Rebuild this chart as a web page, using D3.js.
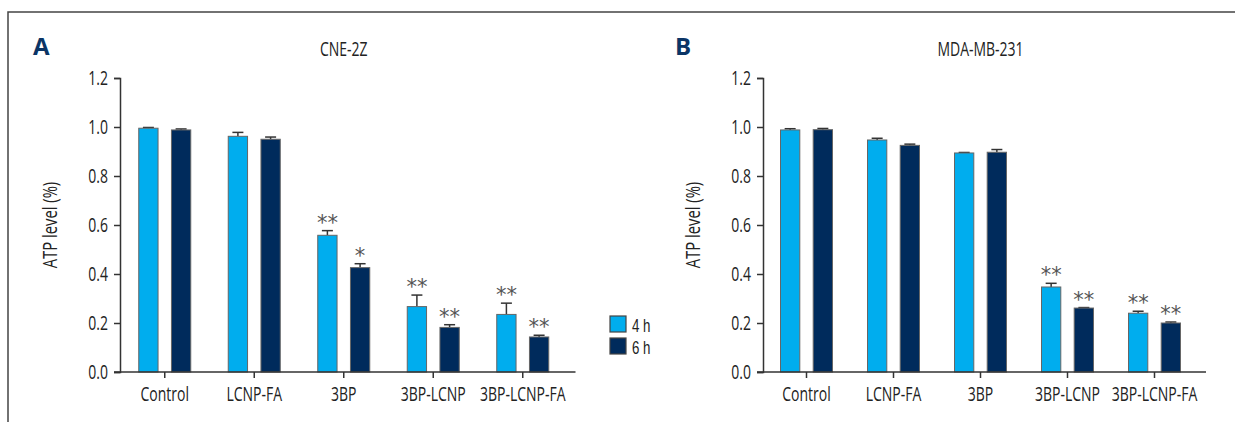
<!DOCTYPE html>
<html>
<head>
<meta charset="utf-8">
<script src="https://cdn.jsdelivr.net/npm/d3@7"></script>
<style>
  body { margin: 0; background: #fff; }
  text { font-family: "Open Sans", "Noto Sans", sans-serif; fill: #222; }
</style>
</head>
<body>
<svg width="1235" height="422"></svg>
<script>
var categories = ["Control", "LCNP-FA", "3BP", "3BP-LCNP", "3BP-LCNP-FA"];
var series = ["4 h", "6 h"];
var yTicks = [0, 0.2, 0.4, 0.6, 0.8, 1.0, 1.2];

// CNE-2Z
var cne4h    = [0.995, 0.962, 0.558, 0.267, 0.235];
var cne4hErr = [0.003, 0.016, 0.019, 0.047, 0.046];
var cne6h    = [0.988, 0.950, 0.426, 0.182, 0.143];
var cne6hErr = [0.004, 0.009, 0.016, 0.011, 0.007];
var cneSig4h = ["", "", "**", "**", "**"];
var cneSig6h = ["", "", "*", "**", "**"];

// MDA-MB-231
var mda4h    = [0.988, 0.947, 0.894, 0.347, 0.240];
var mda4hErr = [0.005, 0.007, 0.002, 0.015, 0.008];
var mda6h    = [0.989, 0.925, 0.897, 0.261, 0.200];
var mda6hErr = [0.005, 0.005, 0.011, 0.002, 0.004];
var mdaSig4h = ["", "", "", "**", "**"];
var mdaSig6h = ["", "", "", "**", "**"];

var color = d3.scaleOrdinal().domain(series).range(["#00adee", "#002b5c"]);
var SX = 0.7;   // horizontal squeeze to mimic the condensed face
var FS = 20;

var svg = d3.select("svg");

// frame
svg.append("path")
    .attr("d", "M8,422 L8,12 L1235,12")
    .attr("fill", "none")
    .attr("stroke", "#444")
    .attr("stroke-width", 1.5);

// text placed at (x,y) and squeezed horizontally
function squeezed(parent, x, y, str, size, sx) {
  return parent.append("text")
      .attr("transform", "translate(" + x + "," + y + ") scale(" + sx + ",1)")
      .style("font-size", size + "px")
      .text(str);
}

function panel(opt) {
  var g = svg.append("g");
  var y = d3.scaleLinear().domain([0, 1.2]).range([372, 78]);
  var x0 = d3.scaleBand().domain(categories).range([opt.left, opt.left + 5 * opt.step]);
  var x1 = d3.scaleBand().domain(series).range([-26, 26]).paddingInner(0.41);

  var rows = [];
  categories.forEach(function(c, i) {
    rows.push({cat: c, s: "4 h", v: opt.v4[i], e: opt.e4[i], sig: opt.sig4[i]});
    rows.push({cat: c, s: "6 h", v: opt.v6[i], e: opt.e6[i], sig: opt.sig6[i]});
  });
  var cx = function(d) { return x0(d.cat) + x0.bandwidth() / 2 + x1(d.s) + x1.bandwidth() / 2; };

  // error bars
  var eb = g.append("g").attr("stroke", "#333").attr("stroke-width", 1.5);
  eb.selectAll("line.v").data(rows).enter().append("line")
      .attr("x1", cx).attr("x2", cx)
      .attr("y1", function(d) { return y(d.v); })
      .attr("y2", function(d) { return y(d.v + d.e); });
  eb.selectAll("line.c").data(rows).enter().append("line")
      .attr("x1", function(d) { return cx(d) - 5.5; })
      .attr("x2", function(d) { return cx(d) + 5.5; })
      .attr("y1", function(d) { return y(d.v + d.e); })
      .attr("y2", function(d) { return y(d.v + d.e); });

  // bars
  g.selectAll("rect").data(rows).enter().append("rect")
      .attr("x", function(d) { return cx(d) - x1.bandwidth() / 2; })
      .attr("y", function(d) { return y(d.v); })
      .attr("width", x1.bandwidth())
      .attr("height", function(d) { return y(0) - y(d.v); })
      .attr("fill", function(d) { return color(d.s); })
      .attr("stroke", "#666")
      .attr("stroke-width", 1);

  // significance stars
  g.selectAll("text.sig").data(rows.filter(function(d) { return d.sig; })).enter().append("text")
      .attr("class", "sig")
      .attr("x", cx)
      .attr("y", function(d) { return y(d.v + d.e) - 1; })
      .attr("text-anchor", "middle")
      .style("font-family", "DejaVu Sans")
      .style("font-size", "21px")
      .style("fill", "#555")
      .text(function(d) { return d.sig; });

  // y axis
  var ya = g.append("g")
      .attr("transform", "translate(" + opt.left + ",0)")
      .call(d3.axisLeft(y).tickValues(yTicks).tickFormat(d3.format(".1f")).tickSize(6).tickPadding(6));
  ya.selectAll(".tick text").attr("x", -12 / SX);
  // x axis
  var xa = g.append("g")
      .attr("transform", "translate(0,372)")
      .call(d3.axisBottom(x0).tickSize(6).tickPadding(9).tickSizeOuter(0));
  xa.select(".domain").attr("d", "M" + (opt.left - 6) + ",0H" + (opt.left + 5 * opt.step + 8));
  [ya, xa].forEach(function(a) {
    a.selectAll("path, line").attr("stroke", "#333").attr("stroke-width", 1.5);
    a.selectAll("text")
      .attr("transform", "scale(" + SX + ",1)")
      .style("font-size", FS + "px").style("fill", "#222")
      .style("font-family", "'Open Sans', 'Noto Sans', sans-serif");
  });

  // axis title
  g.append("text")
      .attr("transform", "translate(" + (opt.left - 70) + ",225) rotate(-90) scale(0.74,1)")
      .attr("text-anchor", "middle")
      .attr("dy", "0.35em")
      .style("font-size", FS + "px")
      .text("ATP level (%)");

  // panel title
  squeezed(g, opt.left + 5 * opt.step / 2, 56, opt.title, FS, SX)
      .attr("text-anchor", "middle");

  // panel letter
  g.append("text")
      .attr("x", opt.letterX)
      .attr("y", 55)
      .style("font-weight", "bold")
      .style("font-size", "24px")
      .style("fill", "#0b3566")
      .text(opt.letter);
}

panel({left: 120, step: 89.5, title: "CNE-2Z", letter: "A", letterX: 33,
       v4: cne4h, e4: cne4hErr, v6: cne6h, e6: cne6hErr, sig4: cneSig4h, sig6: cneSig6h});
panel({left: 763, step: 87, title: "MDA-MB-231", letter: "B", letterX: 675,
       v4: mda4h, e4: mda4hErr, v6: mda6h, e6: mda6hErr, sig4: mdaSig4h, sig6: mdaSig6h});

// legend
var legend = svg.append("g").attr("transform", "translate(610,316)");
series.forEach(function(s, i) {
  legend.append("rect")
      .attr("x", 0).attr("y", i * 22)
      .attr("width", 16).attr("height", 16)
      .attr("fill", color(s))
      .attr("stroke", "#444").attr("stroke-width", 1.2);
  squeezed(legend, 22, i * 22 + 15.5, s, 19, 0.7)
      .style("font-family", "'Liberation Sans', Arial, sans-serif");
});
</script>
</body>
</html>
